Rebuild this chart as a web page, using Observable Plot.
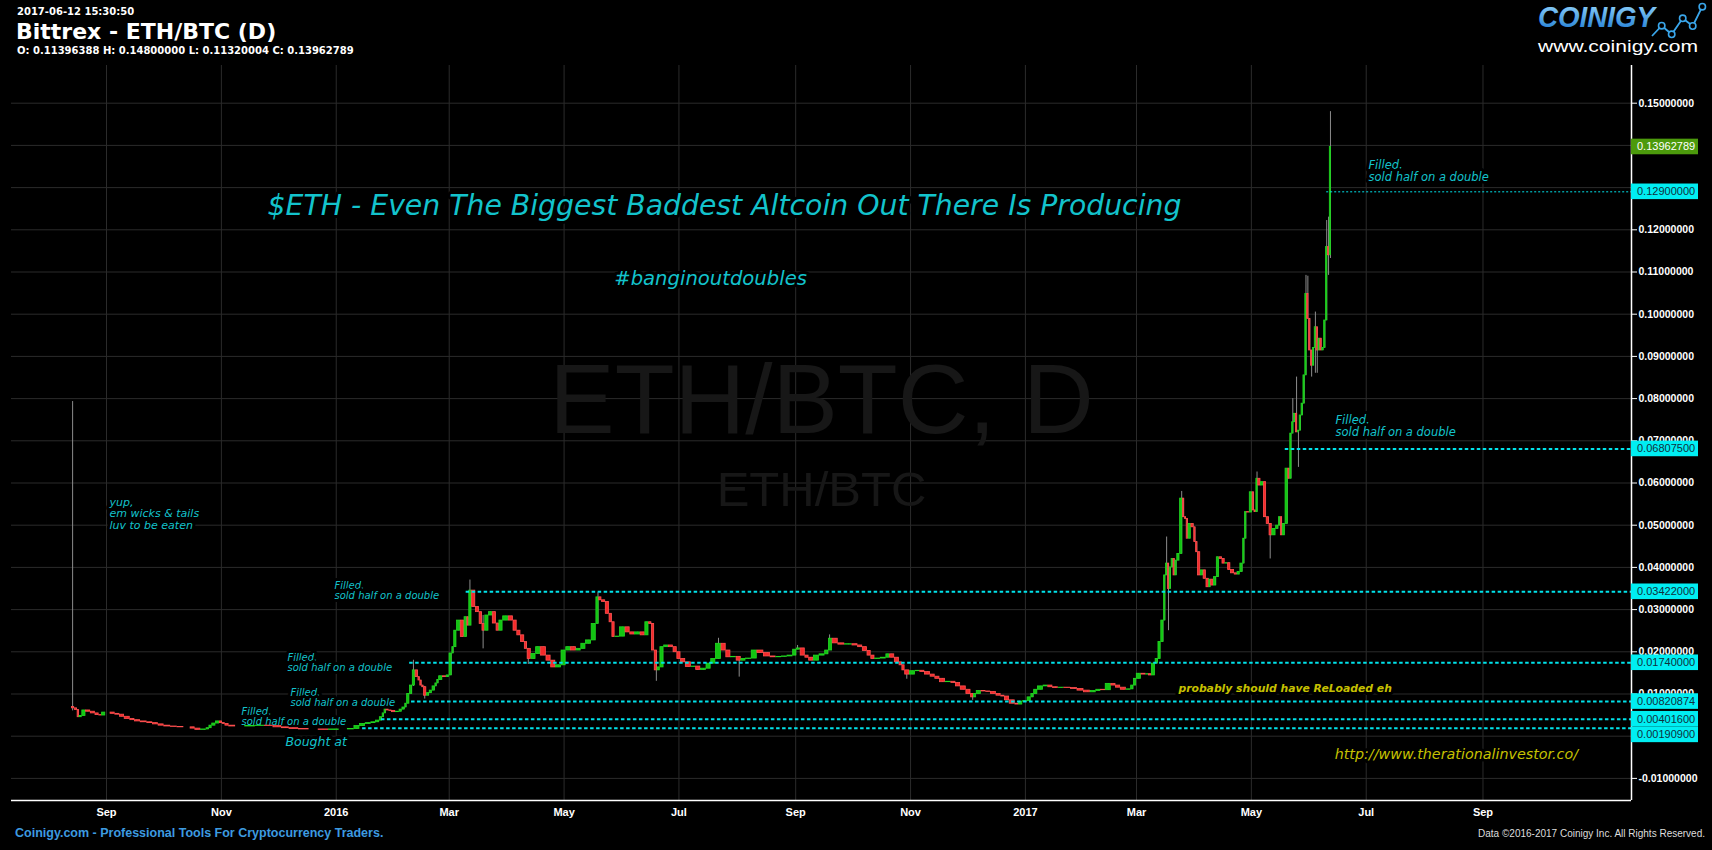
<!DOCTYPE html>
<html><head><meta charset="utf-8">
<script src="https://cdn.jsdelivr.net/npm/d3@7"></script>
<script src="https://cdn.jsdelivr.net/npm/@observablehq/plot@0.6"></script>
<style>
html,body{margin:0;padding:0;background:#000;}
body{width:1712px;height:850px;overflow:hidden;position:relative;}
#chart{position:absolute;left:0;top:0;}
#overlay{position:absolute;left:0;top:0;pointer-events:none;}
</style></head>
<body>
<div id="chart"></div>
<svg id="overlay" width="1712" height="850"></svg>
<script>
// ---------- DATA ----------
const dates = [
"2015-08-14","2015-08-16","2015-08-17","2015-08-18","2015-08-20","2015-08-22","2015-08-25","2015-08-27","2015-08-29","2015-08-30",
"2015-09-02","2015-09-04","2015-09-07","2015-09-09","2015-09-12","2015-09-15","2015-09-17","2015-09-21","2015-09-24","2015-09-27","2015-09-30",
"2015-10-03","2015-10-07","2015-10-10","2015-10-14","2015-10-17","2015-10-19","2015-10-23","2015-10-25","2015-10-26","2015-10-28","2015-10-30",
"2015-11-01","2015-11-02","2015-11-04","2015-11-06","2015-11-11","2015-11-16","2015-11-22","2015-11-26",
"2015-12-01","2015-12-05","2015-12-09","2015-12-15","2015-12-20","2015-12-25","2015-12-31",
"2016-01-05","2016-01-09","2016-01-12","2016-01-15","2016-01-18","2016-01-21","2016-01-23","2016-01-25","2016-01-26","2016-01-27","2016-01-28","2016-01-30","2016-01-31",
"2016-02-03","2016-02-04","2016-02-06","2016-02-07","2016-02-08","2016-02-10","2016-02-11","2016-02-13","2016-02-14","2016-02-15","2016-02-16","2016-02-17","2016-02-19","2016-02-20","2016-02-22","2016-02-23","2016-02-24","2016-02-25","2016-02-28","2016-02-29",
"2016-03-02","2016-03-03","2016-03-04","2016-03-06","2016-03-08","2016-03-10","2016-03-11","2016-03-12","2016-03-14","2016-03-16","2016-03-18","2016-03-19","2016-03-21","2016-03-23","2016-03-25","2016-03-27","2016-03-28","2016-03-31",
"2016-04-03","2016-04-05","2016-04-07","2016-04-09","2016-04-11","2016-04-12","2016-04-15","2016-04-17","2016-04-20","2016-04-23","2016-04-25","2016-04-28",
"2016-05-01","2016-05-03","2016-05-06","2016-05-09","2016-05-11","2016-05-14","2016-05-17","2016-05-19","2016-05-20","2016-05-22","2016-05-24","2016-05-26","2016-05-27","2016-05-29",
"2016-06-01","2016-06-04","2016-06-06","2016-06-09","2016-06-12","2016-06-14","2016-06-16","2016-06-17","2016-06-19","2016-06-20","2016-06-22","2016-06-24","2016-06-27","2016-06-29",
"2016-07-01","2016-07-03","2016-07-06","2016-07-09","2016-07-11","2016-07-14","2016-07-17","2016-07-19","2016-07-22","2016-07-25","2016-07-27","2016-07-30",
"2016-08-02","2016-08-04","2016-08-07","2016-08-10","2016-08-13","2016-08-17","2016-08-20","2016-08-23","2016-08-26","2016-08-29",
"2016-09-01","2016-09-02","2016-09-05","2016-09-07","2016-09-09","2016-09-12","2016-09-15","2016-09-18","2016-09-19","2016-09-22","2016-09-25","2016-09-29",
"2016-10-03","2016-10-05","2016-10-08","2016-10-10","2016-10-12","2016-10-14","2016-10-18","2016-10-20","2016-10-22","2016-10-25","2016-10-27","2016-10-28","2016-10-30",
"2016-11-02","2016-11-05","2016-11-07","2016-11-10","2016-11-13","2016-11-15","2016-11-18","2016-11-21","2016-11-24","2016-11-26","2016-11-29",
"2016-12-02","2016-12-04","2016-12-05","2016-12-07","2016-12-10","2016-12-12","2016-12-15","2016-12-18","2016-12-20","2016-12-22","2016-12-25","2016-12-28","2016-12-29",
"2017-01-01","2017-01-03","2017-01-05","2017-01-06","2017-01-09","2017-01-12","2017-01-14","2017-01-17","2017-01-20","2017-01-23","2017-01-27","2017-01-30",
"2017-02-03","2017-02-06","2017-02-09","2017-02-11","2017-02-14","2017-02-17","2017-02-19","2017-02-22","2017-02-25","2017-02-27","2017-02-28",
"2017-03-02","2017-03-05","2017-03-07","2017-03-08","2017-03-10","2017-03-12","2017-03-13","2017-03-15","2017-03-16","2017-03-17","2017-03-18","2017-03-19","2017-03-20","2017-03-21","2017-03-22","2017-03-23","2017-03-25","2017-03-26","2017-03-27","2017-03-28","2017-03-29","2017-03-31",
"2017-04-01","2017-04-02","2017-04-03","2017-04-05","2017-04-06","2017-04-08","2017-04-09","2017-04-10","2017-04-12","2017-04-13","2017-04-15","2017-04-16","2017-04-18","2017-04-19","2017-04-21","2017-04-23","2017-04-24","2017-04-26","2017-04-27","2017-04-28","2017-04-29",
"2017-05-01","2017-05-02","2017-05-03","2017-05-04","2017-05-05","2017-05-07","2017-05-08","2017-05-10","2017-05-11","2017-05-13","2017-05-15","2017-05-16","2017-05-17","2017-05-18","2017-05-20","2017-05-21","2017-05-22","2017-05-23","2017-05-24","2017-05-25","2017-05-26","2017-05-27","2017-05-28","2017-05-29","2017-05-30","2017-05-31",
"2017-06-01","2017-06-02","2017-06-03","2017-06-04","2017-06-05","2017-06-06","2017-06-07","2017-06-08","2017-06-09","2017-06-10","2017-06-11","2017-06-12"
];
const closes = [
0.0066,0.0062,0.0045,0.0048,0.0061,0.0058,0.0054,0.0050,0.0049,0.0056,
0.0056,0.0053,0.0051,0.0046,0.0041,0.0038,0.0035,0.0033,0.0031,0.0028,0.0025,
0.0023,0.0022,0.0021,0.0021,0.0018,0.0015,0.0016,0.0019,0.0025,0.0030,0.0035,
0.0031,0.0029,0.0025,0.0023,0.0023,0.0024,0.0025,0.0024,
0.0021,0.0019,0.0017,0.0016,0.0016,0.0015,0.0016,
0.0016,0.0017,0.0024,0.0029,0.0031,0.0033,0.0037,0.0045,0.0054,0.0063,0.0061,0.0060,0.0057,
0.0058,0.0063,0.0068,0.0077,0.0100,0.0120,0.0156,0.0140,0.0132,0.0120,0.0116,0.0096,0.0102,0.0108,0.0118,0.0125,0.0133,0.0142,0.0140,0.0144,
0.0196,0.0211,0.0250,0.0274,0.0235,0.0282,0.0262,0.0345,0.0306,0.0294,0.0266,0.0250,0.0286,0.0294,0.0267,0.0250,0.0274,0.0284,
0.0274,0.0250,0.0239,0.0223,0.0207,0.0183,0.0195,0.0211,0.0191,0.0179,0.0163,0.0168,
0.0203,0.0211,0.0203,0.0207,0.0219,0.0227,0.0266,0.0329,0.0322,0.0318,0.0290,0.0270,0.0235,0.0236,
0.0258,0.0246,0.0241,0.0246,0.0239,0.0270,0.0266,0.0203,0.0156,0.0163,0.0211,0.0215,0.0211,0.0199,
0.0183,0.0175,0.0164,0.0165,0.0157,0.0160,0.0172,0.0183,0.0219,0.0203,0.0187,0.0188,
0.0179,0.0183,0.0184,0.0203,0.0197,0.0189,0.0187,0.0188,0.0189,0.0191,
0.0205,0.0208,0.0191,0.0186,0.0179,0.0191,0.0194,0.0203,0.0231,0.0220,0.0217,0.0218,
0.0215,0.0211,0.0202,0.0191,0.0183,0.0184,0.0186,0.0194,0.0186,0.0175,0.0168,0.0156,0.0146,
0.0154,0.0155,0.0152,0.0146,0.0141,0.0136,0.0128,0.0129,0.0126,0.0118,0.0110,
0.0100,0.0092,0.0100,0.0107,0.0106,0.0105,0.0100,0.0096,0.0094,0.0085,0.0077,0.0075,0.0082,
0.0083,0.0092,0.0100,0.0110,0.0118,0.0120,0.0116,0.0114,0.0115,0.0114,0.0112,0.0108,
0.0104,0.0107,0.0110,0.0109,0.0124,0.0120,0.0115,0.0110,0.0111,0.0120,0.0136,
0.0148,0.0146,0.0147,0.0144,0.0172,0.0183,0.0223,0.0274,0.0381,0.0409,0.0349,0.0400,0.0420,0.0381,0.0416,0.0432,0.0563,0.0519,0.0515,0.0468,0.0503,0.0495,
0.0460,0.0436,0.0381,0.0393,0.0373,0.0353,0.0371,0.0357,0.0377,0.0424,0.0420,0.0409,0.0410,0.0394,0.0386,0.0383,0.0389,0.0409,0.0468,0.0531,0.0530,
0.0578,0.0535,0.0531,0.0610,0.0594,0.0602,0.0519,0.0503,0.0476,0.0491,0.0499,0.0519,0.0476,0.0503,0.0634,0.0610,0.0717,0.0744,0.0764,0.0720,0.0724,0.0760,0.0788,0.0855,0.1048,0.0989,
0.0914,0.0878,0.0920,0.0969,0.0914,0.0942,0.0914,0.0920,0.0985,0.1159,0.11396388,0.13962789
];
const firstOpen = 0.0069;
// notable wicks: date, high, low (null = body edge)
const wickDates = ["2015-08-14","2016-02-11","2016-02-17","2016-03-12","2016-03-19","2016-04-12","2016-05-19","2016-06-19","2016-07-22","2016-08-02","2016-09-02","2016-09-19","2016-10-30","2016-12-04","2017-03-17","2017-03-18","2017-03-25","2017-05-04","2017-05-11","2017-05-23","2017-05-25","2017-05-26","2017-05-30","2017-05-31","2017-06-02","2017-06-04","2017-06-05","2017-06-10","2017-06-11","2017-06-12"];
const wickHigh  = [0.0793,0.0180,0.0118,0.0370,0.0286,null,0.0340,null,0.0232,null,0.0215,0.0240,null,null,0.0472,null,0.0580,0.0626,null,0.0800,0.0851,null,0.1092,0.1090,null,0.1005,null,0.1222,0.1230,0.1480];
const wickLow   = [0.0060,0.0118,0.0088,0.0282,0.0207,0.0170,null,0.0130,null,0.0140,null,null,0.0135,0.0085,null,0.0250,null,null,0.0420,null,null,0.0637,null,null,0.0851,0.0860,0.0860,null,0.1092,0.11320004];

const levelValues = [0.001909, 0.004016, 0.00820874, 0.0174, 0.03422, 0.068075, 0.129];
const levelStarts = ["2016-01-15","2016-01-25","2016-02-10","2016-02-09","2016-03-10","2017-05-19","2017-06-10"];

const yTicks = [-0.01,0,0.01,0.02,0.03,0.04,0.05,0.06,0.07,0.08,0.09,0.10,0.11,0.12,0.13,0.14,0.15];
// tick labels fully hidden behind the price boxes in the reference
const hiddenTickLabels = [0, 0.13, 0.14];
const xTickDates = ["2015-09-01","2015-11-01","2016-01-01","2016-03-01","2016-05-01","2016-07-01","2016-09-01","2016-11-01","2017-01-01","2017-03-01","2017-05-01","2017-07-01","2017-09-01"];
const xTickLabels = ["Sep","Nov","2016","Mar","May","Jul","Sep","Nov","2017","Mar","May","Jul","Sep"];

// annotation texts
const filledText = "Filled,\nsold half on a double";
const smallNoteDates = ["2015-12-31T02:00","2015-12-06T03:00","2015-12-07T17:00","2015-11-11T17:00"];
const smallNoteValues = [0.03453, 0.01746, 0.00917, 0.00467];
const bigNoteDates = ["2017-06-14T16:00","2017-07-02T05:00"];
const bigNoteValues = [0.07339, 0.1338];

// ---------- BUILD ----------
const P = s => new Date(s.length > 10 ? s + "Z" : s + "T00:00:00Z");
const DAY = 864e5;
const xDomain = [P("2015-07-12T13:00"), P("2017-11-18T21:00")];
const yDomain = [-0.015237, 0.158934];

const candles = dates.map((s, i) => {
  const t = P(s);
  const open = i === 0 ? firstOpen : closes[i - 1];
  const close = closes[i];
  const prevT = i > 0 ? P(dates[i - 1]) : new Date(+t - DAY);
  const nextT = i < dates.length - 1 ? P(dates[i + 1]) : new Date(+t + DAY);
  const w = wickDates.indexOf(s);
  const hi = w >= 0 && wickHigh[w] != null ? wickHigh[w] : Math.max(open, close);
  const lo = w >= 0 && wickLow[w] != null ? wickLow[w] : Math.min(open, close);
  return {date: t, x1: new Date((+prevT + +t) / 2), x2: new Date((+t + +nextT) / 2),
          open, close, high: hi, low: lo, up: close >= open};
});
const levels = levelValues.map((v, i) => ({v, start: P(levelStarts[i]), end: xDomain[1]}));
const xTicks = xTickDates.map(P);
const labelOf = d => xTickLabels[xTicks.findIndex(t => +t === +d)];

const cyan = "#00e2ea";
const noteCyan = "#13c3cc";
const yellow = "#c6c000";

const smallNotes = smallNoteDates.map((d, i) => ({x: P(d), y: smallNoteValues[i], text: filledText}));
const bigNotes = bigNoteDates.map((d, i) => ({x: P(d), y: bigNoteValues[i], text: filledText}));
const halo = {stroke: "#000", strokeWidth: 6, paintOrder: "stroke"};

const chart = Plot.plot({
  width: 1712, height: 850,
  marginTop: 65, marginBottom: 50, marginLeft: 11, marginRight: 81,
  style: {background: "#000", color: "#fff"},
  x: {type: "utc", domain: xDomain},
  y: {domain: yDomain},
  marks: [
    Plot.gridX({ticks: xTicks, stroke: "#2b2b2b", strokeOpacity: 1}),
    Plot.gridY({ticks: yTicks, stroke: "#2b2b2b", strokeOpacity: 1}),
    Plot.text(["ETH/BTC, D"], {text: d => d, frameAnchor: "middle", dy: -31, fontSize: 98, fill: "#171717", fontFamily: "Liberation Sans"}),
    Plot.text(["ETH/BTC"], {text: d => d, frameAnchor: "middle", dy: 57, fontSize: 49, fill: "#171717", fontFamily: "Liberation Sans"}),
    // annotations (drawn below the candles; their black halo only hides gridlines)
    Plot.text(smallNotes, {x: "x", y: "y", text: "text", textAnchor: "start", lineAnchor: "middle", lineHeight: 1.05,
      fontSize: 10, fontStyle: "italic", fontFamily: "DejaVu Sans", fill: noteCyan, ...halo}),
    Plot.text(bigNotes, {x: "x", y: "y", text: "text", textAnchor: "start", lineAnchor: "middle", lineHeight: 1.05,
      fontSize: 11.5, fontStyle: "italic", fontFamily: "DejaVu Sans", fill: noteCyan, ...halo}),
    Plot.text([{x: P("2015-09-02T14:00"), y: 0.05277, t: "yup,\nem wicks & tails\nluv to be eaten"}], {x: "x", y: "y", text: "t",
      textAnchor: "start", lineAnchor: "middle", lineHeight: 1.05, fontSize: 11, fontStyle: "italic", fontFamily: "DejaVu Sans", fill: noteCyan, ...halo}),
    Plot.text([{x: P("2015-12-05T01:00"), y: -0.00126, t: "Bought at"}], {x: "x", y: "y", text: "t", textAnchor: "start",
      fontSize: 12.5, fontStyle: "italic", fontFamily: "DejaVu Sans", fill: noteCyan, ...halo}),
    Plot.text([{x: P("2016-07-25T05:00"), y: 0.12572, t: "$ETH - Even The Biggest Baddest Altcoin Out There Is Producing"}], {x: "x", y: "y", text: "t",
      fontSize: 28.3, fontStyle: "italic", fontFamily: "DejaVu Sans", fill: noteCyan, ...halo}),
    Plot.text([{x: P("2016-07-17T19:00"), y: 0.10846, t: "#banginoutdoubles"}], {x: "x", y: "y", text: "t",
      fontSize: 19.6, fontStyle: "italic", fontFamily: "DejaVu Sans", fill: noteCyan, ...halo}),
    Plot.text([{x: P("2017-03-23T06:00"), y: 0.01133, t: "probably should have ReLoaded eh"}], {x: "x", y: "y", text: "t", textAnchor: "start",
      fontSize: 10.8, fontStyle: "italic", fontWeight: "bold", fontFamily: "DejaVu Sans", fill: yellow, ...halo}),
    Plot.text([{x: P("2017-06-14T06:00"), y: -0.00434, t: "http://www.therationalinvestor.co/"}], {x: "x", y: "y", text: "t", textAnchor: "start",
      fontSize: 14.3, fontStyle: "italic", fontFamily: "DejaVu Sans", fill: yellow, ...halo}),
    // candles
    Plot.ruleX(candles, {x: "date", y1: "low", y2: "high", stroke: "#8c8c8c", strokeWidth: 1}),
    Plot.rect(candles, {x1: "x1", x2: "x2", y1: "open", y2: "close", insetLeft: 0.3, insetRight: 0.3,
      fill: d => d.up ? "#12c412" : "#f52a2a", stroke: d => d.up ? "#22d822" : "#ff5050", strokeWidth: 0.8}),
    // horizontal levels
    Plot.ruleY(levels.filter(d => d.v !== 0.129), {y: "v", x1: "start", x2: "end", stroke: cyan, strokeWidth: 2, strokeDasharray: "3.5,2.5"}),
    Plot.ruleY(levels.filter(d => d.v === 0.129), {y: "v", x1: "start", x2: "end", stroke: cyan, strokeWidth: 1, strokeDasharray: "2,2"}),
    // axes
    Plot.axisY({anchor: "right", ticks: yTicks, tickFormat: d => hiddenTickLabels.includes(d) ? "" : d.toFixed(8), tickSize: 5, tickPadding: 2,
      stroke: "#fff", fill: "#fff", fontSize: 10.5, fontWeight: "bold", fontFamily: "Liberation Sans", label: null}),
    Plot.axisX({ticks: xTicks, tickFormat: labelOf, tickSize: 0, tickPadding: 8,
      fill: "#fff", fontSize: 11, fontWeight: "bold", fontFamily: "Liberation Sans", label: null}),
    Plot.ruleX([xDomain[1]], {stroke: "#fff", strokeWidth: 1.5}),
    Plot.ruleY([yDomain[0]], {stroke: "#fff", strokeWidth: 1.5})
  ]
});
document.getElementById("chart").appendChild(chart);

// right-side price labels, placed with the plot's y scale
const ys = chart.scale("y");
const boxes = [{v: closes[closes.length - 1], bg: "#4c9a0c", fg: "#fff"}]
  .concat(levelValues.map(v => ({v, bg: "#00eef2", fg: "#10303c"})))
  .map(d => ({...d, cy: ys.apply(d.v)}))
  .sort((a, b) => a.cy - b.cy);
let prevBottom = -Infinity;
const BH = 15.6;
boxes.forEach(b => { b.cy = Math.max(b.cy, prevBottom + BH / 2); prevBottom = b.cy + BH / 2; });
const svg = d3.select(chart);
const g = svg.append("g");
boxes.forEach(b => {
  g.append("rect").attr("x", 1631).attr("y", b.cy - BH / 2).attr("width", 67).attr("height", BH).attr("fill", b.bg);
  g.append("text").attr("x", 1637).attr("y", b.cy).attr("dy", "0.35em").attr("fill", b.fg).attr("text-anchor", "start")
    .attr("font-family", "Liberation Sans").attr("font-size", 11).text(b.v.toFixed(8));
});

// header / logo / footer
const last = candles[candles.length - 1];
const ov = d3.select("#overlay");
ov.append("text").attr("x", 17).attr("y", 15).attr("fill", "#fff").attr("font-family", "DejaVu Sans").attr("font-weight", "bold").attr("font-size", 10)
  .text("2017-06-12 15:30:50");
ov.append("text").attr("x", 16).attr("y", 39).attr("fill", "#fff").attr("font-family", "DejaVu Sans").attr("font-weight", "bold").attr("font-size", 22)
  .text("Bittrex - ETH/BTC (D)");
ov.append("text").attr("x", 17).attr("y", 54).attr("fill", "#fff").attr("font-family", "DejaVu Sans").attr("font-weight", "bold").attr("font-size", 10)
  .text(`O: ${last.open.toFixed(8)} H: ${last.high.toFixed(8)} L: ${last.low.toFixed(8)} C: ${last.close.toFixed(8)}`);
ov.append("text").attr("x", 15).attr("y", 837).attr("fill", "#3d9be0").attr("font-family", "Liberation Sans").attr("font-weight", "bold").attr("font-size", 12.5)
  .text("Coinigy.com - Professional Tools For Cryptocurrency Traders.");
ov.append("text").attr("x", 1705).attr("y", 837).attr("text-anchor", "end").attr("fill", "#ddd").attr("font-family", "Liberation Sans").attr("font-size", 10)
  .text("Data ©2016-2017 Coinigy Inc. All Rights Reserved.");
// logo
const defs = ov.append("defs");
const lg = defs.append("linearGradient").attr("id", "lg").attr("x1", 0).attr("y1", 0).attr("x2", 0).attr("y2", 1);
lg.append("stop").attr("offset", 0).attr("stop-color", "#9ddcff");
lg.append("stop").attr("offset", 1).attr("stop-color", "#1877d0");
ov.append("text").attr("x", 1538).attr("y", 27).attr("fill", "url(#lg)").attr("font-family", "Liberation Sans Narrow, Liberation Sans")
  .attr("font-weight", "bold").attr("font-style", "italic").attr("font-size", 30).attr("textLength", 117).attr("lengthAdjust", "spacingAndGlyphs").text("COINIGY");
const pts = [[1652,36],[1661.7,25.7],[1671.7,34.3],[1682.7,18.3],[1692.7,26],[1702.3,6.7]];
ov.append("polyline").attr("points", pts.map(p => p.join(",")).join(" ")).attr("fill", "none").attr("stroke", "#3aa6ea").attr("stroke-width", 1.8);
pts.slice(1).forEach(p => ov.append("circle").attr("cx", p[0]).attr("cy", p[1]).attr("r", 3.2).attr("fill", "#000").attr("stroke", "#3aa6ea").attr("stroke-width", 1.6));
ov.append("text").attr("x", 1538).attr("y", 52).attr("fill", "#fff").attr("font-family", "Liberation Sans").attr("font-size", 17)
  .attr("textLength", 160).attr("lengthAdjust", "spacingAndGlyphs").text("www.coinigy.com");
</script>
</body></html>
